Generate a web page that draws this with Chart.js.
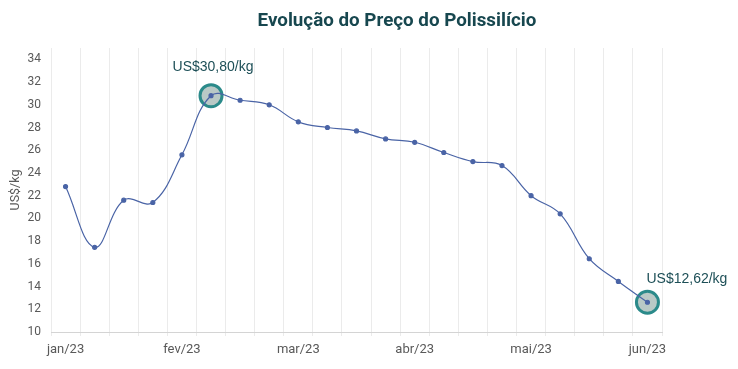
<!DOCTYPE html>
<html>
<head>
<meta charset="utf-8">
<script src="https://cdn.jsdelivr.net/npm/chart.js@4"></script>
<style>
  html, body { margin: 0; padding: 0; background: #fff; }
  #wrap { width: 738px; height: 369px; position: relative; }
</style>
</head>
<body>
<div id="wrap"><canvas id="precoChart" width="738" height="369"></canvas></div>
<script>
// weekly polysilicon price, US$/kg
const weeks = ['jan/23', '', '', '', 'fev/23', '', '', '', 'mar/23', '', '', '', 'abr/23', '', '', '', 'mai/23', '', '', '', 'jun/23'];
const prices = [22.8, 17.45, 21.6, 21.4, 25.6, 30.8, 30.4, 30.0, 28.5, 28.0, 27.7, 27.0, 26.7, 25.8, 25.0, 24.65, 22.0, 20.4, 16.45, 14.45, 12.62];
const highlightIdx = [5, 20];
const highlightText = ['US$30,80/kg', 'US$12,62/kg'];
const yTicks = [10, 12, 14, 16, 18, 20, 22, 24, 26, 28, 30, 32, 34];

const highlights = prices.map((v, i) => highlightIdx.includes(i) ? v : null);

const overlay = {
    id: 'overlay',
    afterDraw(chart) {
        const ctx = chart.ctx;
        ctx.save();
        ctx.fillStyle = '#17474f';
        ctx.font = 'bold 18.8px Roboto, sans-serif';
        ctx.textAlign = 'center';
        ctx.textBaseline = 'middle';
        ctx.fillText('Evolução do Preço do Polissilício', 397, 21);

        const meta = chart.getDatasetMeta(0);
        ctx.font = '14px "Liberation Sans", Arial, sans-serif';
        ctx.fillStyle = '#1d4f57';
        const p1 = meta.data[highlightIdx[0]];
        ctx.textAlign = 'center';
        ctx.fillText(highlightText[0], p1.x + 2, p1.y - 29);
        const p2 = meta.data[highlightIdx[1]];
        ctx.textAlign = 'left';
        ctx.fillText(highlightText[1], p2.x - 1, p2.y - 23);
        ctx.restore();
    }
};

new Chart(document.getElementById('precoChart').getContext('2d'), {
    type: 'line',
    data: {
        labels: weeks,
        datasets: [{
            data: prices,
            borderColor: '#4a64a6',
            backgroundColor: '#4a64a6',
            borderWidth: 1.2,
            pointRadius: 2,
            pointHoverRadius: 2,
            tension: 0.4,
            order: 0
        }, {
            data: highlights,
            showLine: false,
            pointRadius: 11,
            pointBackgroundColor: '#b9c9c6',
            pointBorderColor: '#2b8a8a',
            pointBorderWidth: 3,
            order: 1
        }]
    },
    options: {
        responsive: false,
        maintainAspectRatio: false,
        animation: false,
        layout: { padding: { left: 0, right: 76, top: 48, bottom: 0 } },
        plugins: {
            legend: { display: false },
            tooltip: { enabled: false }
        },
        scales: {
            x: {
                offset: true,
                grid: { offset: true, color: '#ebebeb', tickLength: 4 },
                border: { color: '#d4d4d4' },
                ticks: {
                    autoSkip: false,
                    maxRotation: 0,
                    padding: 6,
                    color: '#595959',
                    font: { family: 'Roboto', size: 13 }
                },
                afterFit: (s) => { s.height = 37; }
            },
            y: {
                min: 10,
                max: 35,
                grid: { display: false, drawTicks: false },
                border: { display: false },
                afterBuildTicks: (s) => { s.ticks = yTicks.map(v => ({ value: v })); },
                ticks: {
                    padding: 10,
                    color: '#595959',
                    font: { family: 'Roboto', size: 12 }
                },
                title: {
                    display: true,
                    text: 'US$/kg',
                    color: '#595959',
                    font: { family: 'Roboto', size: 12.5 },
                    padding: { top: 8, bottom: 0 }
                },
                afterFit: (s) => { s.width = 51; }
            }
        }
    },
    plugins: [overlay]
});
</script>
</body>
</html>
